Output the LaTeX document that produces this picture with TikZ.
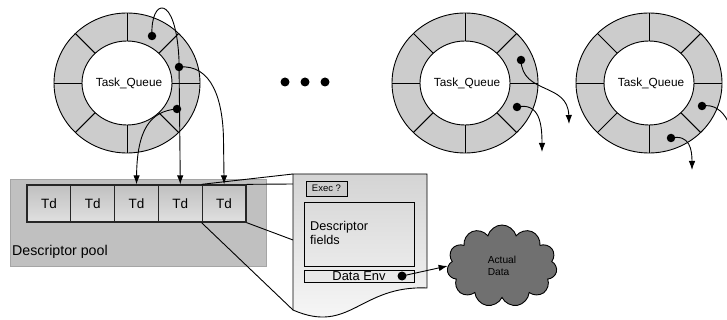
\documentclass[tikz,border=0pt]{standalone}
\usepackage{fontspec}
\setmainfont{Liberation Sans}
\usetikzlibrary{shapes.symbols,arrows.meta}
\definecolor{ringgray}{RGB}{204,204,204}
\definecolor{poolgray}{RGB}{192,192,192}
\definecolor{poolline}{RGB}{165,165,165}
\definecolor{clouddark}{RGB}{112,112,112}
\definecolor{tdtop}{RGB}{192,192,192}
\definecolor{tdmid}{RGB}{208,208,208}
\definecolor{tdbot}{RGB}{224,224,224}
\definecolor{pagetop}{RGB}{212,212,212}
\definecolor{pagebot}{RGB}{250,250,250}
\definecolor{execgray}{RGB}{205,205,205}
\definecolor{envgray}{RGB}{232,232,232}
\tikzset{
  pics/taskring/.style={code={
    \fill[ringgray,even odd rule] (0,0) ellipse [x radius=73pt,y radius=70pt] (0,0) ellipse [x radius=45pt,y radius=42pt];
    \draw[ringline] (0,0) ellipse [x radius=73pt,y radius=70pt];
    \draw[ringline] (0,0) ellipse [x radius=45pt,y radius=42pt];
    \foreach \a in {0,45,...,315}{\draw[ringline] ({45*cos(\a)},{42*sin(\a)}) -- ({73*cos(\a)},{70*sin(\a)});}
    \node[qlabel] (-label) at (2,0) {Task\_Queue};
  }}
}
\begin{document}
\begin{tikzpicture}[x=1pt,y=-1pt,
  ringline/.style={draw=black,line width=0.9pt},
  qlabel/.style={font=\fontsize{11.8}{13}\selectfont,inner sep=0pt},
  dotnode/.style={circle,fill=black,inner sep=0pt,minimum size=8.5pt},
  arr/.style={line width=0.9pt,-{Latex[length=9pt,width=6.5pt]}},
  link/.style={line width=0.9pt},
  tdbox/.style={draw=black!85,line width=1.3pt,minimum width=43.8pt,minimum height=37pt,inner sep=0pt,
    top color=tdtop,bottom color=tdbot,middle color=tdmid,font=\fontsize{13.5}{15}\selectfont}]
\useasboundingbox (0,0) rectangle (727,320);
\fill[white] (0,0) rectangle (727,320);
\clip (0,0) rectangle (727,320);

% rings
\pic (r1) at (127,83) {taskring};
\pic (r2) at (465,83) {taskring};
\pic (r3) at (649,83) {taskring};

% ellipsis
\node[dotnode,minimum size=9pt] (el1) at (285,82) {};
\node[dotnode,minimum size=9pt] (el2) at (305,82) {};
\node[dotnode,minimum size=9pt] (el3) at (325,82) {};

% descriptor pool
\node[draw=poolline,fill=poolgray,line width=0.8pt,minimum width=256pt,minimum height=87pt,inner sep=0pt] (pool) at (138,222.5) {};
\node[anchor=west,font=\fontsize{14.2}{16}\selectfont,inner sep=0pt] (poollabel) at (12,252) {Descriptor pool};
\foreach \i in {1,...,5} \node[tdbox] (td\i) at ({5.1+43.8*\i},203.5) {Td};

% page
\coordinate (pNW) at (293,174);
\coordinate (pW1) at (293,184);
\coordinate (pW2) at (293,240);
\coordinate (pSW) at (293,310);
\coordinate (pNE) at (427,174);
\coordinate (pSE) at (427,288);
\draw[link] (td5.north west) -- (pNW);
\draw[link] (td5.north east) -- (pW1);
\draw[link] (td5.south east) -- (pW2);
\draw[link] (td5.south west) -- (pSW);
\draw[line width=0.9pt,top color=pagetop,bottom color=pagebot] (pNW) -- (pNE) -- (pSE) .. controls (360,285) and (350,335) .. (pSW) -- cycle;
\node[draw,line width=0.9pt,fill=execgray,minimum width=41pt,minimum height=15pt,inner sep=0pt,font=\fontsize{9.5}{11}\selectfont] (exec) at (326.5,188.5) {Exec ?};
\node[draw,line width=0.9pt,minimum width=110pt,minimum height=64pt,inner sep=0pt] (fields) at (359,234) {};
\node[anchor=west,align=left,font=\fontsize{12.7}{14.5}\selectfont,inner sep=0pt] (fieldstext) at (310,233) {Descriptor\\fields};
\node[draw,line width=0.9pt,fill=envgray,minimum width=110pt,minimum height=12pt,inner sep=0pt] (env) at (359,276) {};
\node[font=\fontsize{12.9}{12}\selectfont,inner sep=0pt] (envtext) at (359,276) {Data Env};
\node[dotnode,minimum size=9pt] (envdot) at (402,276) {};

% cloud
\node[cloud,cloud puffs=11,aspect=1.4,draw,line width=0.9pt,fill=clouddark,minimum width=110pt,minimum height=82pt,inner sep=0pt,
  align=left,font=\fontsize{10.2}{12}\selectfont] (cloud) at (502,266) {Actual\\Data};
\draw[arr] (envdot.center) -- (cloud.west);

% queue dots
\node[dotnode] (q1a) at (152,36) {};
\node[dotnode] (q1b) at (179,67) {};
\node[dotnode] (q1c) at (177,109) {};
\node[dotnode] (q2a) at (521,60) {};
\node[dotnode] (q2b) at (517,107) {};
\node[dotnode] (q3a) at (702,106) {};
\node[dotnode] (q3b) at (671,138) {};
\coordinate (e2a) at (569,124);
\coordinate (e2b) at (542,152);
\coordinate (e3b) at (692,170);
\coordinate (e3a) at (738,175);

\draw[arr] (q1a.center) .. controls (150,-2) and (176,-8) .. (179,60) -- (td4.north);
\draw[arr] (q1b.center) .. controls (212,64) and (223,100) .. (223.5,140) -- (td5.north);
\draw[arr] (q1c.center) .. controls (150,111) and (137,130) .. (td3.north);
\draw[arr] (q2a.center) .. controls (522,95) and (568,82) .. (e2a);
\draw[arr] (q2b.center) .. controls (540,102) and (542,125) .. (e2b);
\draw[arr] (q3b.center) .. controls (690,134) and (692,150) .. (e3b);
\draw[arr] (q3a.center) .. controls (725,102) and (736,130) .. (e3a);
\end{tikzpicture}
\end{document}
